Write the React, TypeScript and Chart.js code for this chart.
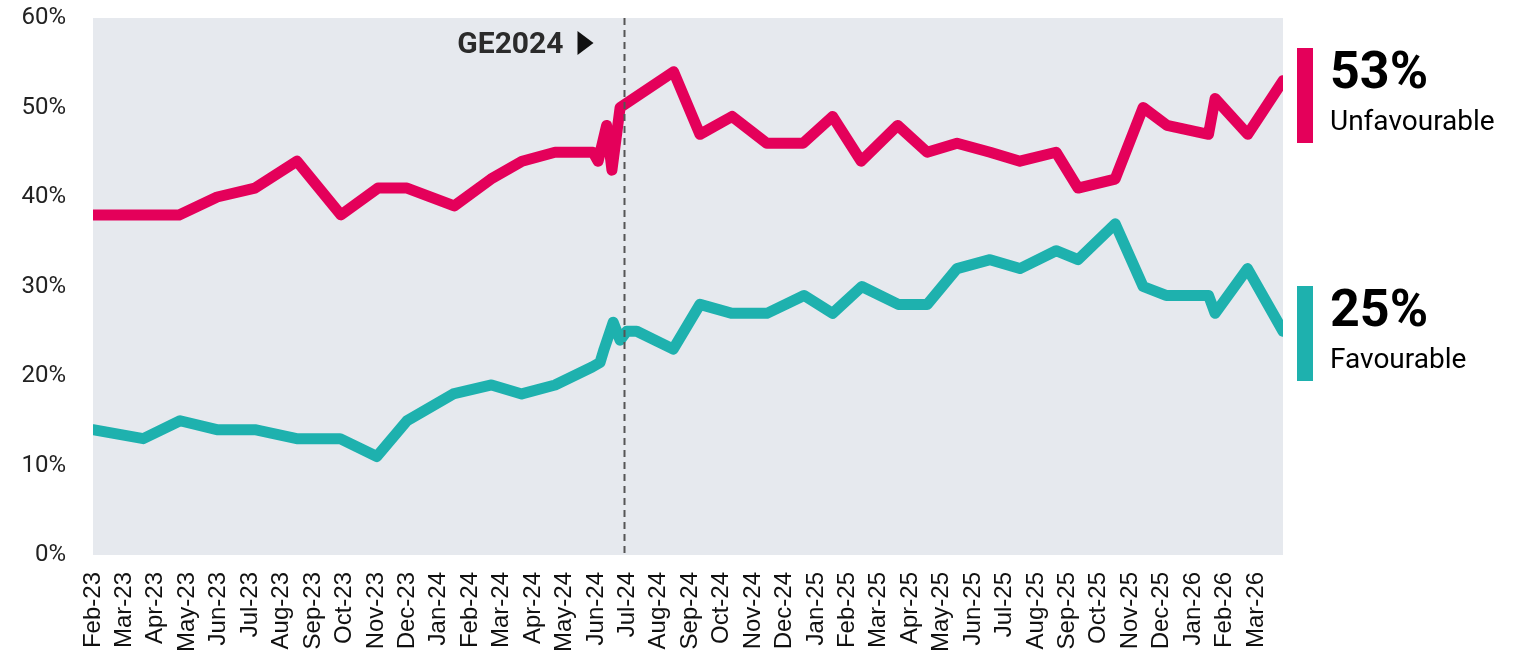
import React, { useEffect, useRef } from 'react';
import { Chart, registerables } from 'chart.js';

Chart.register(...registerables);

// X axis: month index (0 = Feb-23), one tick per month
const monthLabels = [
  'Feb-23', 'Mar-23', 'Apr-23', 'May-23', 'Jun-23', 'Jul-23', 'Aug-23', 'Sep-23', 'Oct-23', 'Nov-23', 'Dec-23',
  'Jan-24', 'Feb-24', 'Mar-24', 'Apr-24', 'May-24', 'Jun-24', 'Jul-24', 'Aug-24', 'Sep-24', 'Oct-24', 'Nov-24', 'Dec-24',
  'Jan-25', 'Feb-25', 'Mar-25', 'Apr-25', 'May-25', 'Jun-25', 'Jul-25', 'Aug-25', 'Sep-25', 'Oct-25', 'Nov-25', 'Dec-25',
  'Jan-26', 'Feb-26', 'Mar-26',
];
const xMax = 37.86;

// Unfavourable series (fractional month index, percent)
const unfavMonth = [
  0, 2.74, 3.95, 5.15, 6.49, 7.89, 9.07, 9.99, 11.49, 12.66, 13.65, 14.7, 15.91, 16.07, 16.34, 16.51, 16.77,
  18.47, 19.31, 20.33, 21.44, 22.59, 23.53, 24.44, 25.6, 26.54, 27.49, 28.54, 29.49, 30.64, 31.34, 32.52,
  33.41, 34.17, 35.49, 35.7, 36.74, 37.86,
];
const unfavValue = [
  38, 38, 40, 41, 44, 38, 41, 41, 39, 42, 44, 45, 45, 44, 48, 43, 50,
  54, 47, 49, 46, 46, 49, 44, 48, 45, 46, 45, 44, 45, 41, 42,
  50, 48, 47, 51, 47, 53,
];

// Favourable series
const favMonth = [
  0, 1.6, 2.77, 3.94, 5.15, 6.48, 7.86, 9.03, 9.99, 11.46, 12.68, 13.64, 14.7, 15.88, 16.13, 16.26, 16.55,
  16.77, 16.98, 17.3, 18.46, 19.31, 20.33, 21.44, 22.62, 23.53, 24.46, 25.62, 26.54, 27.49, 28.54, 29.49,
  30.64, 31.34, 32.52, 33.41, 34.14, 35.49, 35.7, 36.73, 37.86,
];
const favValue = [
  14, 13, 15, 14, 14, 13, 13, 11, 15, 18, 19, 18, 19, 21, 21.5, 23, 26,
  24, 25, 25, 23, 28, 27, 27, 29, 27, 30, 28, 28, 32, 33, 32,
  34, 33, 37, 30, 29, 29, 27, 32, 25,
];

const yTicks = [0, 10, 20, 30, 40, 50, 60];
const seriesNames = ['Unfavourable', 'Favourable'];
const seriesColors = ['#E4005A', '#1EB1AE'];
const electionMonth = 16.9;
const electionLabel = 'GE2024';

const bgPlugin = {
  id: 'plotBg',
  beforeDraw(chart: any) {
    const { ctx, chartArea } = chart;
    if (!chartArea) return;
    ctx.save();
    ctx.fillStyle = '#E6E9EE';
    ctx.fillRect(chartArea.left, chartArea.top, chartArea.right - chartArea.left, chartArea.bottom - chartArea.top);
    ctx.restore();
  },
};

const electionPlugin = {
  id: 'election',
  afterDatasetsDraw(chart: any) {
    const { ctx, chartArea, scales } = chart;
    const x = Math.round(scales.x.getPixelForValue(electionMonth)) + 0.5;
    ctx.save();
    ctx.strokeStyle = '#555555';
    ctx.lineWidth = 2;
    ctx.setLineDash([7, 5]);
    ctx.beginPath();
    ctx.moveTo(x, chartArea.top);
    ctx.lineTo(x, chartArea.bottom);
    ctx.stroke();
    ctx.setLineDash([]);
    ctx.fillStyle = '#2b2b2b';
    ctx.font = 'bold 30px Roboto, "Liberation Sans", sans-serif';
    ctx.textAlign = 'right';
    ctx.textBaseline = 'alphabetic';
    ctx.fillText(electionLabel, x - 61, 53);
    ctx.fillStyle = '#111111';
    ctx.beginPath();
    ctx.moveTo(x - 47, 31);
    ctx.lineTo(x - 31, 43);
    ctx.lineTo(x - 47, 55);
    ctx.closePath();
    ctx.fill();
    ctx.restore();
  },
};

const endLabelPlugin = {
  id: 'endLabels',
  afterDraw(chart: any) {
    const { ctx, chartArea } = chart;
    const barX = chartArea.right + 14;
    const textX = chartArea.right + 47;
    const blocks = [
      { value: unfavValue[unfavValue.length - 1], name: seriesNames[0], color: seriesColors[0], top: 48 },
      { value: favValue[favValue.length - 1], name: seriesNames[1], color: seriesColors[1], top: 286 },
    ];
    ctx.save();
    for (const b of blocks) {
      ctx.fillStyle = b.color;
      ctx.fillRect(barX, b.top, 16, 95);
      ctx.fillStyle = '#000000';
      ctx.textAlign = 'left';
      ctx.textBaseline = 'alphabetic';
      ctx.font = 'bold 52px Roboto, "Liberation Sans", sans-serif';
      ctx.fillText(b.value + '%', textX, b.top + 40);
      ctx.font = '28px Roboto, "Liberation Sans", sans-serif';
      ctx.fillText(b.name, textX, b.top + 82);
    }
    ctx.restore();
  },
};

export default function App() {
  const canvasRef = useRef<HTMLCanvasElement | null>(null);

  useEffect(() => {
    if (!canvasRef.current) return;
    const chart = new Chart(canvasRef.current, {
      type: 'line',
      data: {
        datasets: [
          {
            label: seriesNames[0],
            data: unfavMonth.map((m, i) => ({ x: m, y: unfavValue[i] })),
            borderColor: seriesColors[0],
            borderWidth: 11,
            borderJoinStyle: 'round',
            borderCapStyle: 'round',
            pointRadius: 0,
            tension: 0,
          },
          {
            label: seriesNames[1],
            data: favMonth.map((m, i) => ({ x: m, y: favValue[i] })),
            borderColor: seriesColors[1],
            borderWidth: 11,
            borderJoinStyle: 'round',
            borderCapStyle: 'round',
            pointRadius: 0,
            tension: 0,
          },
        ],
      },
      options: {
        animation: false,
        responsive: false,
        maintainAspectRatio: false,
        layout: { padding: { top: 18, right: 246, bottom: 0, left: 0 } },
        plugins: { legend: { display: false }, tooltip: { enabled: false } },
        scales: {
          x: {
            type: 'linear',
            min: 0,
            max: xMax,
            grid: { display: false, drawTicks: false },
            border: { display: false },
            afterFit(scale: any) {
              scale.height = 102;
              scale.paddingLeft = 0;
              scale.paddingRight = 0;
            },
            afterBuildTicks(scale: any) {
              scale.ticks = monthLabels.map((_, i) => ({ value: i }));
            },
            ticks: {
              autoSkip: false,
              maxRotation: 90,
              minRotation: 90,
              padding: 17,
              color: '#111111',
              font: { family: '"Liberation Sans", Arial, sans-serif', size: 24 },
              callback: (v: any) => monthLabels[Math.round(Number(v))] ?? '',
            },
          },
          y: {
            min: 0,
            max: 60,
            grid: { display: false, drawTicks: false },
            border: { display: false },
            afterFit(scale: any) {
              scale.width = 93;
              scale.paddingTop = 10;
              scale.paddingBottom = 10;
            },
            afterBuildTicks(scale: any) {
              scale.ticks = yTicks.map((v) => ({ value: v }));
            },
            ticks: {
              padding: 27,
              color: '#222222',
              font: { family: 'Roboto, sans-serif', size: 24, weight: '400' },
              callback: (v: any) => v + '%',
            },
          },
        },
      },
      plugins: [bgPlugin, electionPlugin, endLabelPlugin],
    });
    return () => chart.destroy();
  }, []);

  return (
    <div style={{ position: 'absolute', left: 0, top: 0, width: 1529, height: 657, background: '#ffffff' }}>
      <canvas ref={canvasRef} width={1529} height={657} />
    </div>
  );
}
